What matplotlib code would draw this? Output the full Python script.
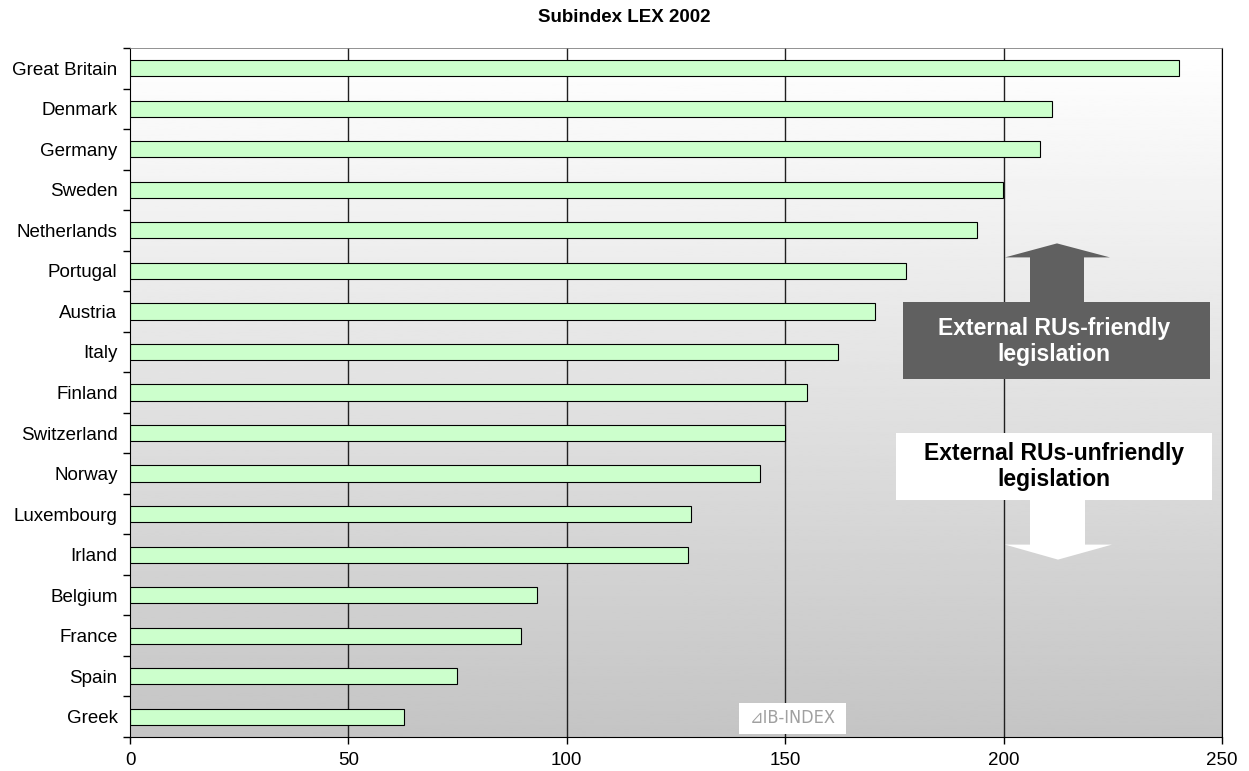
import numpy as np
import matplotlib
matplotlib.use("Agg")
from matplotlib import pyplot as plt
from matplotlib.patches import Rectangle, Polygon

plt.rcParams['font.family'] = ['Liberation Sans', 'DejaVu Sans']

# Data
countries = ["Great Britain", "Denmark", "Germany", "Sweden", "Netherlands",
             "Portugal", "Austria", "Italy", "Finland", "Switzerland", "Norway",
             "Luxembourg", "Irland", "Belgium", "France", "Spain", "Greek"]
scores = [240.2, 211.1, 208.3, 199.9, 193.9, 177.7, 170.6, 162.1, 155.0,
          150.0, 144.2, 128.4, 127.7, 93.2, 89.5, 74.9, 62.7]
xticks = [0, 50, 100, 150, 200, 250]

fig = plt.figure(figsize=(12.49, 7.71), dpi=100)
ax = fig.add_axes([130/1249, 1 - 737/771, 1092/1249, 689/771])

n = len(countries)
ypos = np.arange(n)

# gradient background
grad = np.linspace(1.0, 0.77, 256).reshape(-1, 1)
ax.imshow(grad, cmap='gray', vmin=0, vmax=1, aspect='auto',
          extent=[0, 250, n - 0.5, -0.5], zorder=0)

for x in xticks[1:]:
    ax.axvline(x, color='#202020', lw=1, zorder=1)

ax.barh(ypos, scores, height=0.4, color='#ccffcc', edgecolor='black',
        linewidth=0.8, zorder=2)

ax.set_xlim(0, 250)
ax.set_ylim(n - 0.5, -0.5)
ax.set_xticks(xticks)
ax.set_yticks(ypos)
ax.set_yticklabels(countries, fontsize=13.5)
ax.tick_params(axis='y', length=0, pad=9)
ax.set_yticks(np.arange(n + 1) - 0.5, minor=True)
ax.tick_params(axis='y', which='minor', length=5, width=1)
ax.tick_params(axis='x', length=5, width=1, labelsize=13.5, pad=6)

for s in ['left', 'bottom', 'right']:
    ax.spines[s].set_color('black')
ax.spines['top'].set_color('#808080')
ax.spines['top'].set_linewidth(0.6)

def px(x, y):
    return ((x - 130) / 1092 * 250, (y - 69) / 40.5)

# friendly box + up arrow
x0, y0 = px(903, 303)
x1, y1 = px(1210, 380)
ax.add_patch(Rectangle((x0, y0), x1 - x0, y1 - y0, facecolor='#606060',
                       edgecolor='none', zorder=3))
arrow_up = [px(1030, 303), px(1030, 258), px(1005, 258), px(1057, 244),
            px(1110, 258), px(1084, 258), px(1084, 303)]
ax.add_patch(Polygon(arrow_up, closed=True, facecolor='#606060',
                     edgecolor='none', zorder=3))
tx, ty = px(1054, 342)
ax.text(tx, ty, "External RUs-friendly\nlegislation", color='white',
        fontsize=16.5, fontweight='bold', ha='center', va='center',
        linespacing=1.15, zorder=4)

# unfriendly box + down arrow
x0, y0 = px(896, 433)
x1, y1 = px(1212, 500)
ax.add_patch(Rectangle((x0, y0), x1 - x0, y1 - y0, facecolor='white',
                       edgecolor='none', zorder=3))
arrow_dn = [px(1030, 500), px(1030, 545), px(1005, 545), px(1058, 560),
            px(1112, 545), px(1085, 545), px(1085, 500)]
ax.add_patch(Polygon(arrow_dn, closed=True, facecolor='white',
                     edgecolor='none', zorder=3))
tx, ty = px(1054, 467)
ax.text(tx, ty, "External RUs-unfriendly\nlegislation", color='black',
        fontsize=16.5, fontweight='bold', ha='center', va='center',
        linespacing=1.15, zorder=4)

# watermark
x0, y0 = px(739, 703)
x1, y1 = px(846, 734)
ax.add_patch(Rectangle((x0, y0), x1 - x0, y1 - y0, facecolor='white',
                       edgecolor='none', zorder=3))
tx, ty = px(793, 718)
ax.text(tx, ty, "⊿IB-INDEX", color='#a0a0a0', fontsize=13, ha='center',
        va='center', family=['DejaVu Sans'], stretch='condensed', zorder=4)

fig.text(624 / 1249, 1 - 18 / 771, "Subindex LEX 2002", ha='center',
         va='center', fontsize=13.5, fontweight='bold')

fig.savefig("out.png", dpi=100)
